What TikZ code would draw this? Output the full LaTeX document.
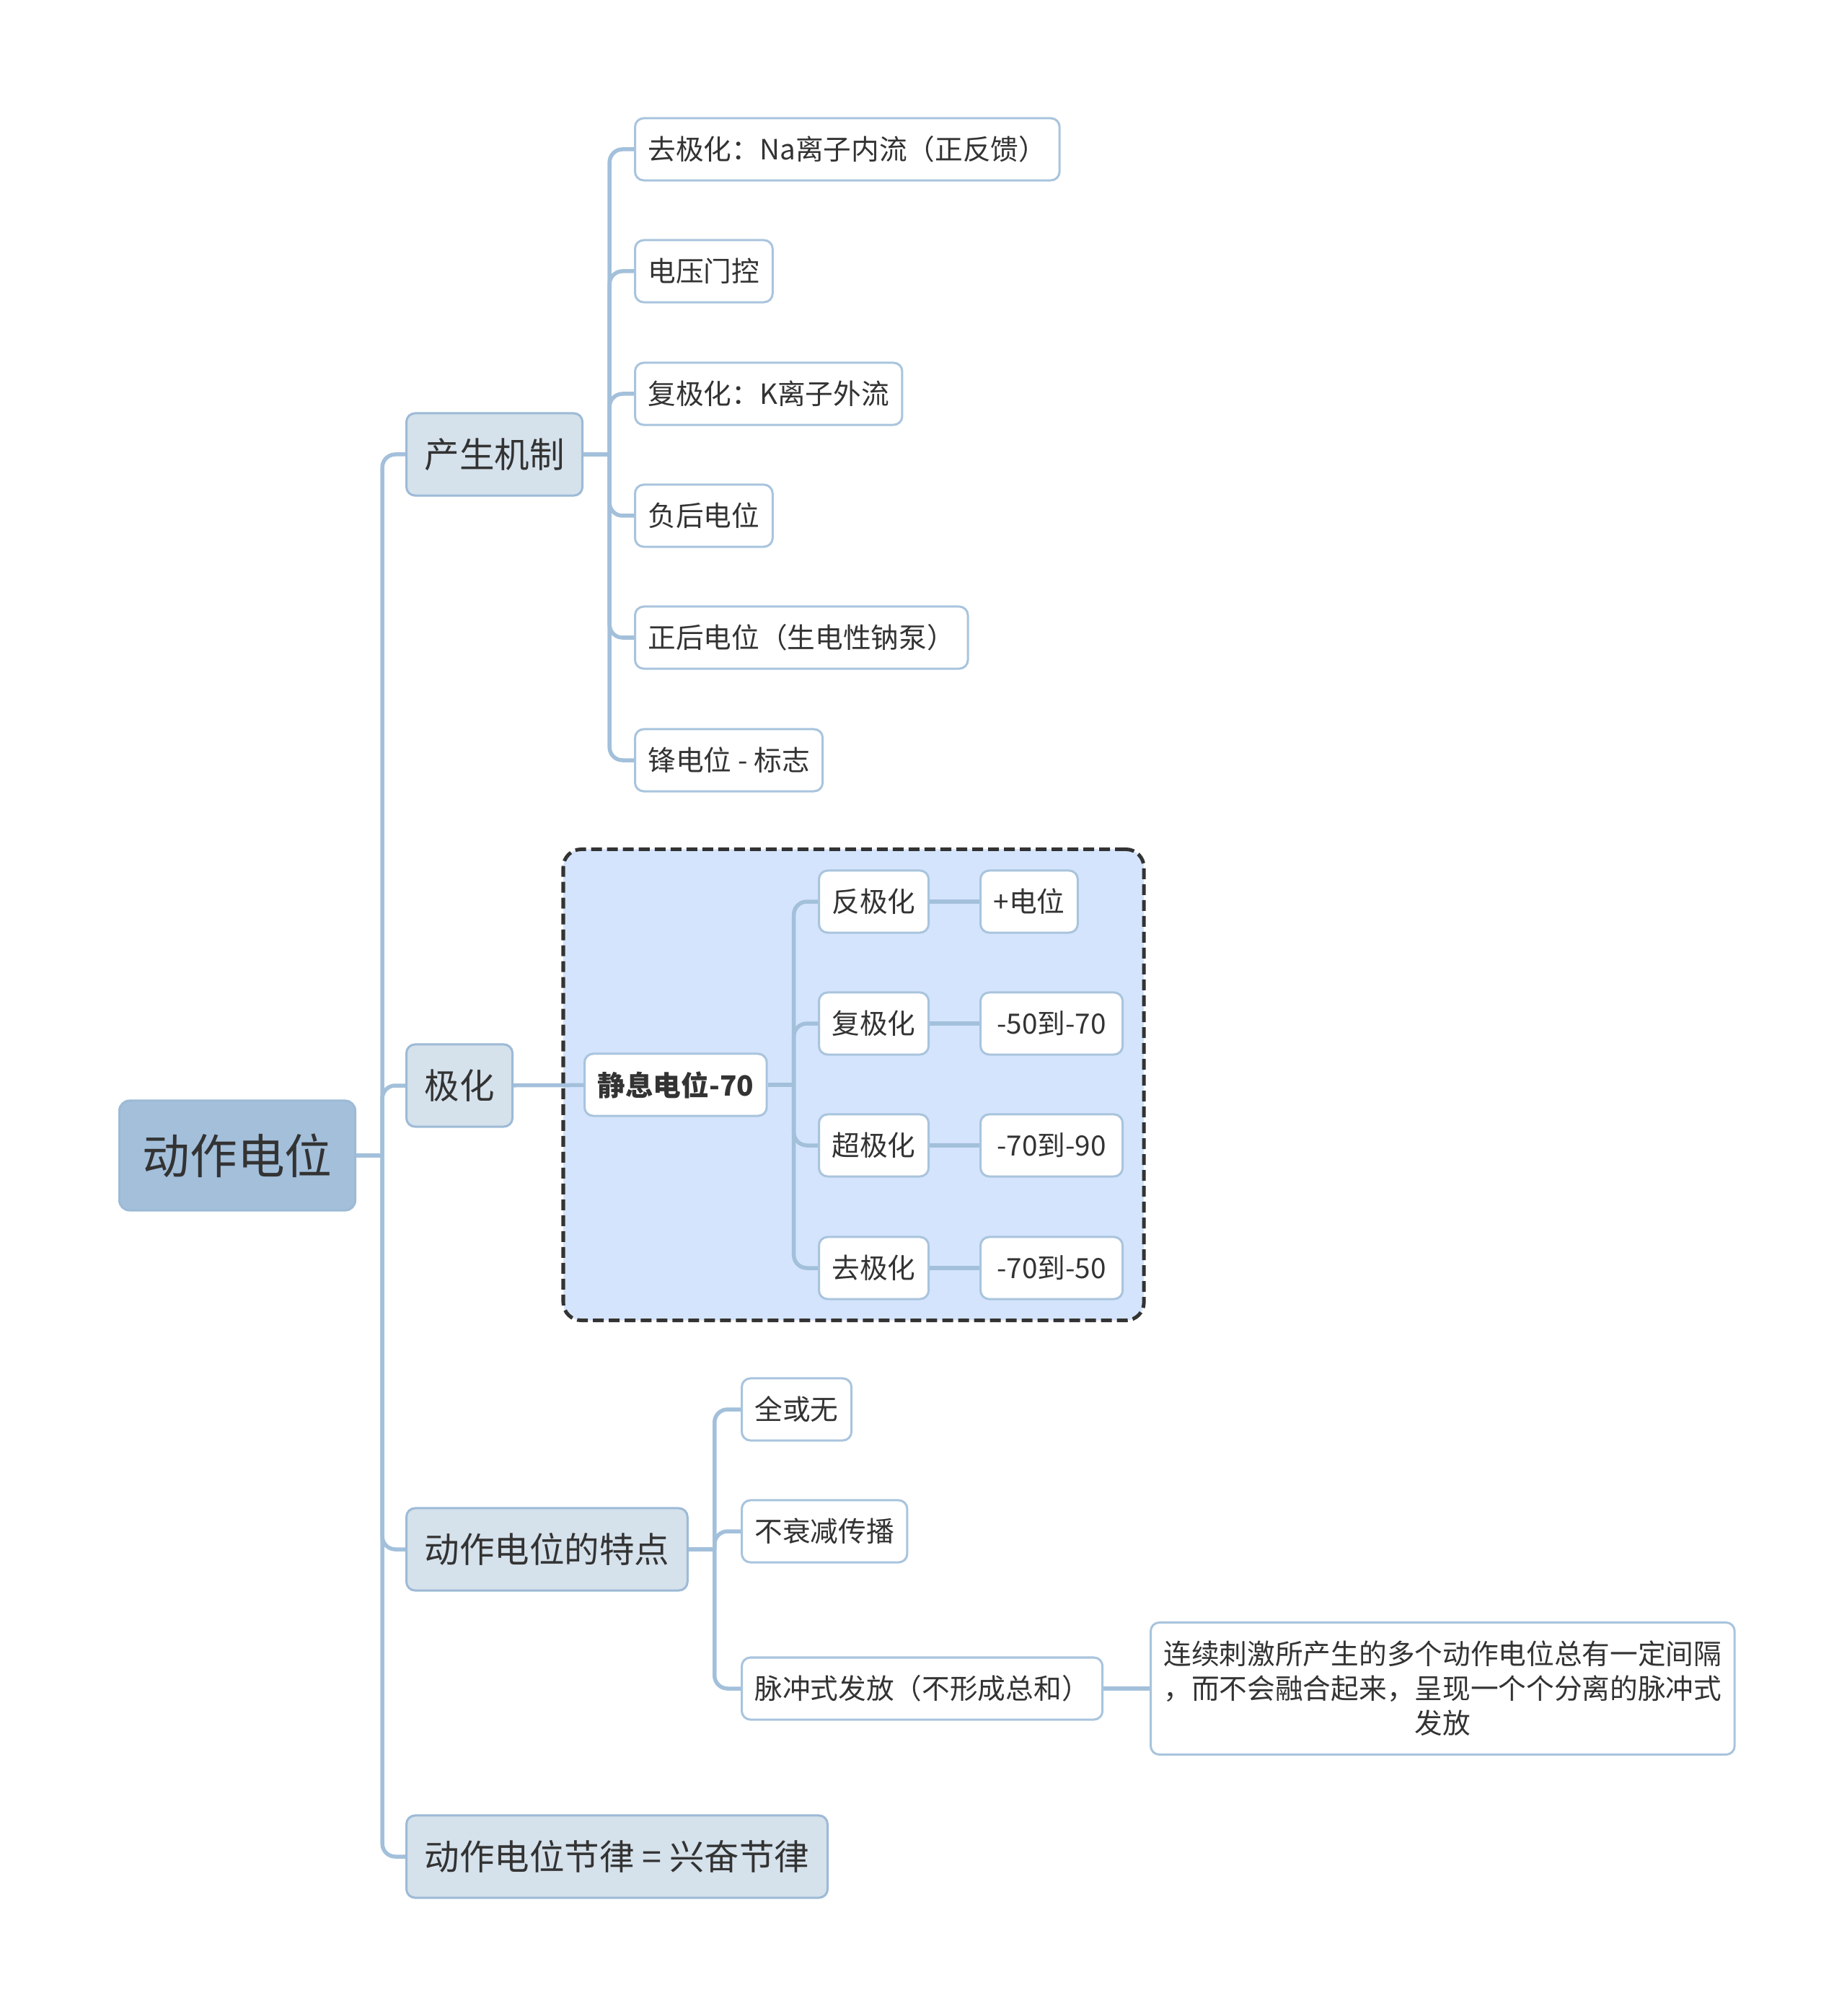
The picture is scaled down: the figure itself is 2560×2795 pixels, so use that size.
\documentclass[tikz,border=0pt]{standalone}
\usepackage{fontspec}
\setmainfont{Noto Sans CJK SC}
\usepackage{xcolor}
\usetikzlibrary{calc,fit,backgrounds}
\definecolor{ink}{HTML}{333333}
\definecolor{linkblue}{HTML}{A3C0DB}
\definecolor{rootfill}{HTML}{A3BFDA}
\definecolor{topicfill}{HTML}{D5E1EB}
\definecolor{edgeblue}{HTML}{9DBAD6}
\definecolor{leafedge}{HTML}{A9C4DD}
\definecolor{groupfill}{HTML}{D4E4FC}
\newcommand{\twig}[2]{\draw[link] (#1.east) -- ++(36,0) coordinate (fk);
  \foreach \kid in {#2} \draw[link,rounded corners=0.18cm] (fk) |- (\kid.west);}
\tikzset{link/.style={linkblue,line width=0.055cm},
  rootbox/.style={anchor=west,fill=rootfill,draw=edgeblue,line width=0.03cm,rounded corners=0.14cm,text=ink,
    font=\fontsize{18.7}{22}\selectfont,minimum height=1.52cm,inner xsep=0.32cm},
  topic/.style={anchor=west,fill=topicfill,draw=edgeblue,line width=0.03cm,rounded corners=0.12cm,text=ink,
    font=\fontsize{13.8}{16}\selectfont,minimum height=1.14cm,inner xsep=0.25cm},
  leaf/.style={anchor=west,fill=white,draw=leafedge,line width=0.03cm,rounded corners=0.12cm,text=ink,
    font=\fontsize{11}{13.7}\selectfont,minimum height=0.86cm,inner xsep=0.18cm},
  valbox/.style={leaf,minimum width=1.97cm},
  groupbox/.style={fill=groupfill,draw=ink,dash pattern=on 0.15cm off 0.07cm,line width=0.05cm,
    rounded corners=0.25cm,inner sep=0.28cm}}

\begin{document}
\begin{tikzpicture}[x=0.01cm,y=-0.01cm]
\useasboundingbox (0,0) rectangle (2560,2795);
% root and first level
\node[rootbox] (root) at (164,1602) {动作电位};
\node[topic] (gen) at (562,630) {产生机制};
\node[topic] (pol) at (562,1505) {极化};
\node[topic] (feat) at (562,2148) {动作电位的特点};
\node[topic] (rhythm) at (562,2574) {动作电位节律 = 兴奋节律};
% mechanism
\node[leaf] (na) at (879,207) {去极化：Na离子内流（正反馈）};
\node[leaf] (gate) at (879,376) {电压门控};
\node[leaf] (kout) at (879,546) {复极化：K离子外流};
\node[leaf] (neg) at (879,715) {负后电位};
\node[leaf] (pos) at (879,884) {正后电位（生电性钠泵）};
\node[leaf] (spike) at (879,1054) {锋电位 - 标志};
% polarisation group
\node[leaf,font=\fontsize{11}{13.7}\selectfont\bfseries] (rest) at (809,1504) {静息电位-70};
\node[leaf] (rev) at (1134,1250) {反极化};
\node[leaf] (rep) at (1134,1419) {复极化};
\node[leaf] (hyp) at (1134,1588) {超极化};
\node[leaf] (dep) at (1134,1758) {去极化};
\node[leaf] (vrev) at (1358,1250) {+电位};
\node[valbox] (vrep) at (1358,1419) {-50到-70};
\node[valbox] (vhyp) at (1358,1588) {-70到-90};
\node[valbox] (vdep) at (1358,1758) {-70到-50};
\begin{scope}[on background layer]
\node[groupbox,fit=(rest)(rev)(dep)(vrep)(vdep)] (grp) {};
\end{scope}
% features
\node[leaf] (allnone) at (1027,1954) {全或无};
\node[leaf] (nodecay) at (1027,2123) {不衰减传播};
\node[leaf] (pulse) at (1027,2341) {脉冲式发放（不形成总和）};
\node[leaf,align=center,minimum width=8.02cm,minimum height=1.83cm] (pulsenote) at (1594,2341)
  {连续刺激所产生的多个动作电位总有一定间隔\\，而不会融合起来，呈现一个个分离的脉冲式\\发放};
% connectors
\twig{root}{gen,pol,feat,rhythm}
\twig{gen}{na,gate,kout,neg,pos,spike}
\draw[link] (pol) -- (rest);
\twig{rest}{rev,rep,hyp,dep}
\draw[link] (rev) -- (vrev); \draw[link] (rep) -- (vrep);
\draw[link] (hyp) -- (vhyp); \draw[link] (dep) -- (vdep);
\twig{feat}{allnone,nodecay,pulse}
\draw[link] (pulse) -- (pulsenote);
\end{tikzpicture}
\end{document}
